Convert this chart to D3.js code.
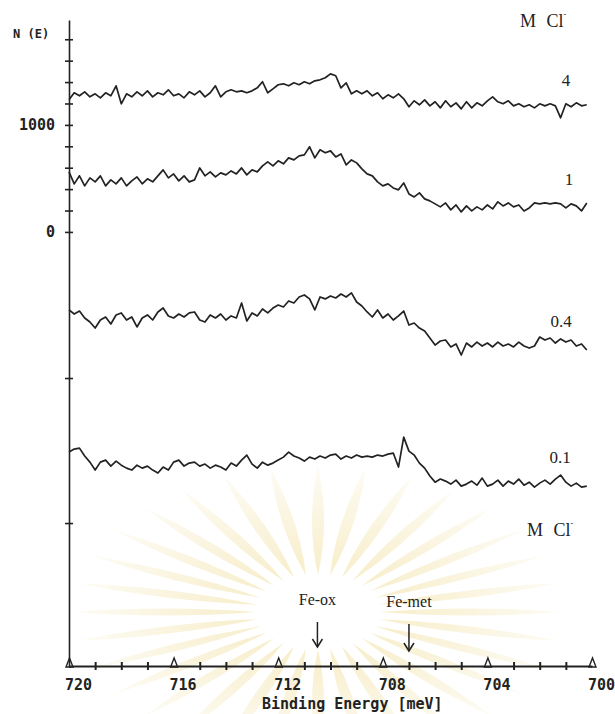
<!DOCTYPE html>
<html>
<head>
<meta charset="utf-8">
<script src="https://cdn.jsdelivr.net/npm/d3@7"></script>
<style>
  body { margin: 0; background: #fff; }
  svg { display: block; background: #fff; }
</style>
</head>
<body>
<svg id="chart" width="615" height="714"></svg>
<script>
/* Data (counts vs binding energy) */
var energy = [
  720.0,719.8,719.6,719.4,719.2,719.0,718.8,718.6,718.4,718.2,
  718.0,717.8,717.6,717.4,717.2,717.0,716.8,716.6,716.4,716.2,
  716.0,715.8,715.6,715.4,715.2,715.0,714.8,714.6,714.4,714.2,
  714.0,713.8,713.6,713.4,713.2,713.0,712.8,712.6,712.4,712.2,
  712.0,711.8,711.6,711.4,711.2,711.0,710.8,710.6,710.4,710.2,
  710.0,709.8,709.6,709.4,709.2,709.0,708.8,708.6,708.4,708.2,
  708.0,707.8,707.6,707.4,707.2,707.0,706.8,706.6,706.4,706.2,
  706.0,705.8,705.6,705.4,705.2,705.0,704.8,704.6,704.4,704.2,
  704.0,703.8,703.6,703.4,703.2,703.0,702.8,702.6,702.4,702.2,
  702.0,701.8,701.6,701.4,701.2,701.0,700.8,700.6,700.4,700.2];

var conc4 = [
  1234,1300,1272,1309,1262,1290,1253,1300,1272,1365,
  1197,1290,1262,1309,1272,1318,1262,1300,1281,1328,
  1272,1290,1253,1309,1281,1318,1262,1300,1365,1262,
  1309,1328,1309,1318,1300,1318,1346,1403,1300,1337,
  1375,1384,1365,1393,1375,1403,1384,1412,1421,1440,
  1477,1459,1346,1393,1290,1318,1290,1318,1272,1300,
  1244,1281,1253,1290,1244,1169,1225,1188,1234,1178,
  1216,1159,1225,1169,1206,1150,1216,1159,1206,1178,
  1225,1262,1216,1197,1225,1178,1197,1169,1188,1159,
  1197,1178,1197,1178,1066,1197,1169,1206,1178,1188];

var conc1 = [
  561,449,524,430,505,468,524,430,486,449,
  505,430,477,514,449,496,468,524,580,505,
  542,477,524,468,486,598,524,561,514,552,
  533,570,542,598,533,580,561,617,655,617,
  664,636,692,673,711,720,795,692,767,739,
  757,701,729,626,673,645,589,542,524,468,
  430,449,411,393,458,355,327,365,309,290,
  262,234,271,206,252,187,243,196,234,206,
  252,215,281,243,271,234,252,196,224,271,
  262,271,262,271,262,224,262,243,196,271];

var conc04 = [
  -729,-767,-739,-804,-842,-898,-823,-795,-860,-776,
  -757,-823,-795,-888,-804,-776,-823,-748,-711,-785,
  -804,-767,-795,-757,-748,-823,-842,-776,-804,-767,
  -823,-785,-804,-664,-832,-757,-785,-720,-757,-711,
  -683,-701,-645,-664,-608,-589,-626,-729,-608,-626,
  -598,-617,-580,-608,-570,-655,-692,-748,-795,-729,
  -804,-767,-823,-785,-739,-870,-851,-898,-926,-991,
  -1057,-1019,-1010,-1075,-1047,-1150,-1038,-1075,-1029,-1066,
  -1038,-1075,-1029,-1066,-1047,-1075,-1029,-1066,-1085,-1066,
  -982,-1010,-991,-1038,-1000,-1029,-1010,-1066,-1047,-1103];

var conc01 = [
  -2057,-2029,-2020,-2094,-2151,-2225,-2151,-2132,-2188,-2141,
  -2179,-2207,-2225,-2179,-2207,-2188,-2225,-2253,-2197,-2225,
  -2151,-2132,-2188,-2160,-2151,-2188,-2169,-2207,-2179,-2197,
  -2225,-2160,-2188,-2132,-2085,-2169,-2207,-2151,-2179,-2160,
  -2132,-2104,-2057,-2094,-2113,-2141,-2104,-2122,-2094,-2113,
  -2085,-2076,-2122,-2094,-2113,-2085,-2104,-2094,-2104,-2085,
  -2094,-2076,-2066,-2197,-1917,-2048,-2085,-2160,-2207,-2281,
  -2338,-2309,-2328,-2356,-2319,-2375,-2356,-2328,-2366,-2300,
  -2375,-2356,-2319,-2375,-2328,-2356,-2309,-2366,-2338,-2384,
  -2347,-2319,-2356,-2309,-2272,-2338,-2375,-2347,-2384,-2375];

var seriesNames = ["4", "1", "0.4", "0.1"];
var seriesValues = [conc4, conc1, conc04, conc01];

var xTicks = [720,719,718,717,716,715,714,713,712,711,710,709,708,707,706,705,704,703,702,701,700];
var xMajor = [720,716,712,708,704,700];
var yTicks = [1800,1600,1400,1200,1000,800,600,400,200,0,-1365,-2720];
var yLabelled = [1000, 0];

var markerNames = ["Fe-ox", "Fe-met"];
var markerEnergies = [710.5, 707];

/* Layout */
var svg = d3.select("#chart");
var ink = "#222";
var monoFont = "'DejaVu Sans Mono', 'Liberation Mono', monospace";
var serifFont = "'Liberation Serif', 'DejaVu Serif', serif";

var x = d3.scaleLinear().domain([720, 700]).range([69, 592]);
var y = d3.scaleLinear().domain([-4065, 1980]).range([667, 20]);
var axisY = 666;

// faint watermark of the scanned page (sunburst behind the lower half)
var grad = svg.append("defs").append("radialGradient")
  .attr("id", "rayFade")
  .attr("gradientUnits", "userSpaceOnUse")
  .attr("cx", 0).attr("cy", 0).attr("r", 245);
grad.append("stop").attr("offset", "0.25").attr("stop-color", "#f2e2a6").attr("stop-opacity", 0.6);
grad.append("stop").attr("offset", "1").attr("stop-color", "#f2e2a6").attr("stop-opacity", 0.12);

var wm = svg.append("g")
  .attr("transform", "translate(318,612) scale(1,0.6)");
var rayAngles = d3.range(0, 360, 11.25);
wm.selectAll("path")
  .data(rayAngles)
  .enter()
  .append("path")
    .attr("d", "M62,0Q150,-12 245,0Q150,12 62,0Z")
    .attr("transform", function (a) { return "rotate(" + a + ")"; })
    .attr("fill", "url(#rayFade)");

// spectra
var line = d3.line()
  .x(function (d, i) { return x(energy[i]); })
  .y(function (d) { return y(d); });

svg.append("g")
  .selectAll("path")
  .data(seriesValues)
  .enter()
  .append("path")
    .attr("d", line)
    .attr("fill", "none")
    .attr("stroke", ink)
    .attr("stroke-width", 1.7)
    .attr("stroke-linejoin", "round");

// y axis
var gy = svg.append("g")
  .attr("transform", "translate(" + x(720) + ",0)")
  .call(d3.axisLeft(y)
    .tickValues(yTicks)
    .tickSize(0)
    .tickSizeOuter(0)
    .tickPadding(14)
    .tickFormat(function (d) { return yLabelled.indexOf(d) >= 0 ? d : ""; }));
gy.select(".domain").attr("stroke", ink).attr("stroke-width", 1.6);
gy.selectAll(".tick line").attr("x1", -4).attr("x2", 4).attr("stroke", ink).attr("stroke-width", 1.6);
gy.selectAll(".tick text")
  .attr("font-family", monoFont).attr("font-size", 15).attr("font-weight", "bold").attr("fill", ink);

// x axis
var gx = svg.append("g")
  .attr("transform", "translate(0," + axisY + ")")
  .call(d3.axisBottom(x)
    .tickValues(xTicks)
    .tickSize(0)
    .tickSizeOuter(0)
    .tickFormat(function (d) { return xMajor.indexOf(d) >= 0 ? d : ""; }));
gx.select(".domain").attr("stroke", ink).attr("stroke-width", 1.8);
gx.selectAll(".tick line")
  .attr("y1", -4).attr("y2", 4)
  .attr("stroke", ink).attr("stroke-width", 2)
  .attr("display", function (d) { return xMajor.indexOf(d) >= 0 ? "none" : null; });
gx.selectAll(".tick")
  .filter(function (d) { return xMajor.indexOf(d) >= 0; })
  .append("path")
    .attr("d", "M0,-8L-3.5,1L3.5,1Z")
    .attr("fill", "none")
    .attr("stroke", ink)
    .attr("stroke-width", 1.4);
gx.selectAll(".tick text")
  .attr("y", 24).attr("dy", null).attr("dx", 9)
  .attr("font-family", monoFont).attr("font-size", 15).attr("font-weight", "bold").attr("fill", ink);

// axis titles
svg.append("text")
  .attr("x", 262).attr("y", 709)
  .attr("font-family", monoFont).attr("font-size", 15).attr("font-weight", "bold").attr("fill", ink)
  .text("Binding Energy [meV]");
svg.append("text")
  .attr("x", 13).attr("y", 38)
  .attr("font-family", monoFont).attr("font-size", 12).attr("font-weight", "bold").attr("fill", ink)
  .text("N (E)");

// concentration labels
var labelPos = [[566, 86], [569, 185], [561, 327], [560, 463]];
svg.append("g")
  .selectAll("text")
  .data(seriesNames)
  .enter()
  .append("text")
    .attr("x", function (d, i) { return labelPos[i][0]; })
    .attr("y", function (d, i) { return labelPos[i][1]; })
    .attr("text-anchor", "middle")
    .attr("font-family", serifFont)
    .attr("font-size", 17)
    .attr("fill", ink)
    .text(function (d) { return d; });

function unitLabel(x0, y0) {
  var t = svg.append("text")
    .attr("x", x0).attr("y", y0)
    .attr("font-family", serifFont).attr("font-size", 18).attr("fill", ink)
    .style("word-spacing", "6px");
  t.append("tspan").text("M Cl");
  t.append("tspan").attr("dy", -10).attr("font-size", 8).text("-");
}
unitLabel(520, 27);
unitLabel(527, 536);

// Fe-ox / Fe-met markers
var arrowTop = [622, 624], arrowTip = [647, 651], labelBase = [605, 607];
markerNames.forEach(function (name, i) {
  var mx = x(markerEnergies[i]);
  svg.append("text")
    .attr("x", mx).attr("y", labelBase[i])
    .attr("text-anchor", "middle")
    .attr("font-family", serifFont).attr("font-size", 16).attr("fill", ink)
    .text(name);
  svg.append("line")
    .attr("x1", mx).attr("x2", mx)
    .attr("y1", arrowTop[i]).attr("y2", arrowTip[i])
    .attr("stroke", ink).attr("stroke-width", 1.5);
  svg.append("path")
    .attr("d", "M" + (mx - 5) + "," + (arrowTip[i] - 8) + "L" + mx + "," + arrowTip[i] + "L" + (mx + 5) + "," + (arrowTip[i] - 8))
    .attr("fill", "none")
    .attr("stroke", ink).attr("stroke-width", 1.5);
});
</script>
</body>
</html>
